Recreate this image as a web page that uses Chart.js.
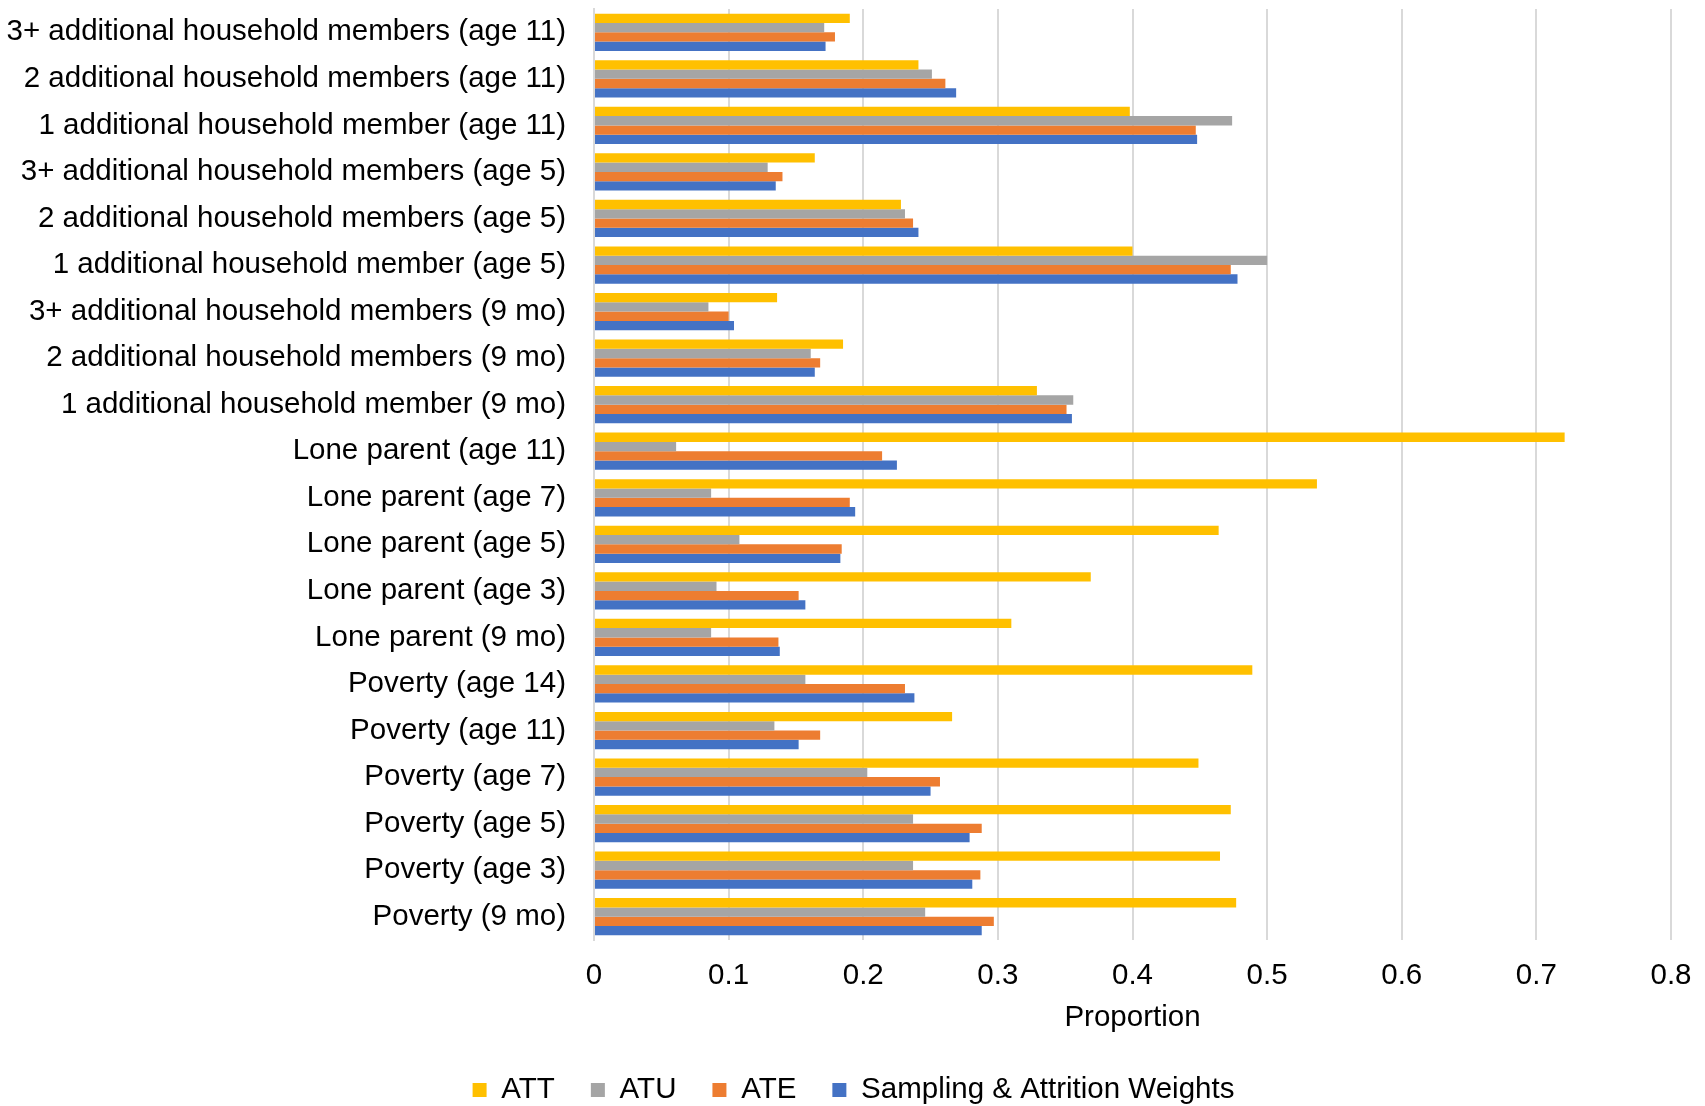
<!DOCTYPE html>
<html>
<head>
<meta charset="utf-8">
<title>Proportion by household measure</title>
<script src="https://cdn.jsdelivr.net/npm/chart.js@4.4.1/dist/chart.umd.min.js"></script>
<style>
  html, body { margin: 0; padding: 0; background: #fff; }
  #wrap { position: relative; width: 1705px; height: 1106px; }
</style>
</head>
<body>
<div id="wrap"><canvas id="chart"></canvas></div>
<script>
(function() {
  'use strict';

  var categories = [
    '3+ additional household members (age 11)',
    '2 additional household members (age 11)',
    '1 additional household member (age 11)',
    '3+ additional household members (age 5)',
    '2 additional household members (age 5)',
    '1 additional household member (age 5)',
    '3+ additional household members (9 mo)',
    '2 additional household members (9 mo)',
    '1 additional household member (9 mo)',
    'Lone parent (age 11)',
    'Lone parent (age 7)',
    'Lone parent (age 5)',
    'Lone parent (age 3)',
    'Lone parent (9 mo)',
    'Poverty (age 14)',
    'Poverty (age 11)',
    'Poverty (age 7)',
    'Poverty (age 5)',
    'Poverty (age 3)',
    'Poverty (9 mo)'
  ];

  var att = [0.190, 0.241, 0.398, 0.164, 0.228, 0.400, 0.136, 0.185, 0.329, 0.721,
             0.537, 0.464, 0.369, 0.310, 0.489, 0.266, 0.449, 0.473, 0.465, 0.477];
  var atu = [0.171, 0.251, 0.474, 0.129, 0.231, 0.500, 0.085, 0.161, 0.356, 0.061,
             0.087, 0.108, 0.091, 0.087, 0.157, 0.134, 0.203, 0.237, 0.237, 0.246];
  var ate = [0.179, 0.261, 0.447, 0.140, 0.237, 0.473, 0.100, 0.168, 0.351, 0.214,
             0.190, 0.184, 0.152, 0.137, 0.231, 0.168, 0.257, 0.288, 0.287, 0.297];
  var weights = [0.172, 0.269, 0.448, 0.135, 0.241, 0.478, 0.104, 0.164, 0.355, 0.225,
                 0.194, 0.183, 0.157, 0.138, 0.238, 0.152, 0.250, 0.279, 0.281, 0.288];

  var seriesNames = ['ATT', 'ATU', 'ATE', 'Sampling & Attrition Weights'];
  var colors = ['#FFC000', '#A5A5A5', '#ED7D31', '#4472C4'];
  var xTicks = [0, 0.1, 0.2, 0.3, 0.4, 0.5, 0.6, 0.7, 0.8];

  var font = { family: '"Liberation Sans", Arial, sans-serif', size: 29.5 };

  function makeSet(i, values) {
    return {
      label: seriesNames[i],
      data: values,
      backgroundColor: colors[i],
      borderWidth: 0,
      barPercentage: 1,
      categoryPercentage: 0.8
    };
  }

  // legend keeps its wide item spacing but takes less height at the bottom,
  // and sits a little right of the canvas centre like the original
  var legendFit = {
    id: 'legendFit',
    beforeLayout: function(chart) {
      var lg = chart.legend;
      if (!lg || lg._fixedFit) return;
      var fit = lg.fit;
      lg.fit = function() {
        fit.call(this);
        this.height = 66.7;
      };
      lg._fixedFit = true;
    },
    afterLayout: function(chart) {
      if (!chart.legend) return;
      chart.legend.left += 18;
      chart.legend.right += 18;
    }
  };

  new Chart(document.getElementById('chart'), {
    type: 'bar',
    data: {
      labels: categories,
      datasets: [makeSet(0, att), makeSet(1, atu), makeSet(2, ate), makeSet(3, weights)]
    },
    plugins: [legendFit],
    options: {
      indexAxis: 'y',
      responsive: true,
      maintainAspectRatio: false,
      animation: false,
      layout: { padding: { top: 9, right: 34, bottom: 0, left: 0 } },
      plugins: {
        tooltip: { enabled: false },
        legend: {
          position: 'bottom',
          labels: {
            font: font,
            color: '#000',
            boxWidth: 14,
            boxHeight: 14,
            padding: 36
          }
        }
      },
      scales: {
        x: {
          min: 0,
          max: 0.8,
          afterBuildTicks: function(scale) {
            scale.ticks = xTicks.map(function(v) { return { value: v }; });
          },
          afterFit: function(scale) {
            scale.height = 99.3;
            scale.paddingRight = 0;
          },
          ticks: {
            font: font,
            color: '#000',
            padding: 18,
            callback: function(v) { return String(Number(Number(v).toFixed(1))); }
          },
          grid: { color: '#D9D9D9', lineWidth: 2, drawTicks: false },
          border: { display: false },
          title: {
            display: true,
            text: 'Proportion',
            font: font,
            color: '#000',
            padding: { top: 4, bottom: 3.5 }
          }
        },
        y: {
          afterFit: function(scale) {
            scale.width = 594;
            scale.paddingTop = 0;
            scale.paddingBottom = 0;
          },
          ticks: { font: font, color: '#000', padding: 28, autoSkip: false },
          grid: { display: false, drawTicks: false },
          border: { display: true, color: '#D9D9D9', width: 2 }
        }
      }
    }
  });
})();
</script>
</body>
</html>
